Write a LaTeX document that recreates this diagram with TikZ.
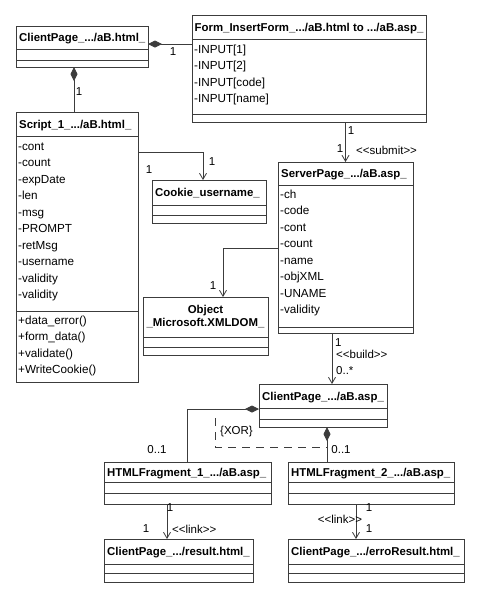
\documentclass[tikz,border=0pt]{standalone}
\usepackage{fontspec}
\setmainfont{Liberation Sans}
\usetikzlibrary{arrows.meta}
\definecolor{ln}{RGB}{60,60,60}
\newcommand\sL{<\kern0pt<}
\newcommand\sR{>\kern0pt>}
\newcommand\umlbox[7]{%
  \node[box, minimum width={(#4-#2)*1pt}, minimum height={(#5-#3)*1pt}] (#1) at (#2,#3) {};
  \draw[sepl] (#2,#6) -- (#4,#6);
  \draw[sepl] (#2,#7) -- (#4,#7);
}
\begin{document}
\begin{tikzpicture}[x=1pt,y=-1pt,
  box/.style={draw=ln, line width=0.9pt, fill=white, inner sep=0pt, outer sep=0pt, anchor=north west},
  sepl/.style={draw=ln, line width=0.9pt},
  ttl/.style={font=\fontsize{11.4}{13}\selectfont\bfseries, anchor=base west, inner sep=0pt},
  att/.style={font=\fontsize{11.7}{13}\selectfont, anchor=base west, inner sep=0pt},
  lbl/.style={font=\fontsize{11.5}{13}\selectfont, inner sep=0pt},
  conn/.style={draw=ln, line width=0.8pt},
  openarr/.style={-{Straight Barb[length=6pt,width=7pt]}},
  comp/.style={{Diamond[length=14pt,width=7pt,fill=ln]}-},
  aggr/.style={{Diamond[open,length=11pt,width=6.5pt,fill=white]}-},
  xor/.style={draw=ln, line width=0.8pt, dash pattern=on 8pt off 6pt}
]
\fill[white] (0,0) rectangle (481,598);
\useasboundingbox (0,0) rectangle (481,598);

% boxes
\umlbox{cpA}{16}{26}{148}{67}{49}{60}
\node[ttl] (cpAt) at (19,41.5) {ClientPage\_.../aB.html\_};

\umlbox{form}{192}{15}{426}{122}{39}{114}
\node[ttl] (formt) at (194.5,31) {Form\_InsertForm\_.../aB.html to .../aB.asp\_};
\foreach \t [count=\i from 0] in {-INPUT[1],-INPUT[2],-INPUT[code],-INPUT[name]}
  \node[att] (forma\i) at (194,53+16.5*\i) {\t};

\umlbox{script}{16}{112}{138}{382}{136}{311}
\node[ttl] (scriptt) at (19,128) {Script\_1\_.../aB.html\_};
\foreach \t [count=\i from 0] in {-cont,-count,-expDate,-len,-msg,-PROMPT,-retMsg,-username,-validity,-validity}
  \node[att] (scripta\i) at (18,150+16.5*\i) {\t};
\foreach \t [count=\i from 0] in {+data\_error(),+form\_data(),+validate(),+WriteCookie()}
  \node[att] (scriptm\i) at (18,324+16.5*\i) {\t};

\umlbox{cookie}{152}{180}{266}{223}{205}{215}
\node[ttl] (cookiet) at (155,196.5) {Cookie\_username\_};

\umlbox{obj}{143}{297}{268}{355}{337}{347}
\node[ttl, anchor=center, align=center] (objt) at (205.5,317) {Object\\\_Microsoft.XMLDOM\_};

\umlbox{server}{278}{162}{413}{333}{185}{327}
\node[ttl] (servert) at (281,177.5) {ServerPage\_.../aB.asp\_};
\foreach \t [count=\i from 0] in {-ch,-code,-cont,-count,-name,-objXML,-UNAME,-validity}
  \node[att] (servera\i) at (280,198+16.5*\i) {\t};

\umlbox{cpB}{259}{384}{387}{427}{408}{419}
\node[ttl] (cpBt) at (262,400) {ClientPage\_.../aB.asp\_};

\umlbox{frag1}{104}{462}{271}{504}{482}{493}
\node[ttl] (frag1t) at (107,476) {HTMLFragment\_1\_.../aB.asp\_};

\umlbox{frag2}{288}{462}{454}{504}{482}{493}
\node[ttl] (frag2t) at (291,476) {HTMLFragment\_2\_.../aB.asp\_};

\umlbox{res}{104}{539}{253}{582}{564}{573}
\node[ttl] (rest) at (107,555.5) {ClientPage\_.../result.html\_};

\umlbox{err}{288}{539}{464}{582}{564}{573}
\node[ttl] (errt) at (291,555.5) {ClientPage\_.../erroResult.html\_};

% connectors
\draw[conn, comp] ([yshift=2.5pt]cpA.east) -- ([yshift=2.5pt]cpA.east -| form.west);
\node[lbl] (l1) at (173,52) {1};

\draw[conn, comp] ([xshift=58pt]cpA.south west) -- ([xshift=58pt]cpA.south west |- script.north);
\node[lbl] (l2) at (79,92) {1};

\draw[conn, openarr] ([yshift=-40pt]script.north east) -| ([xshift=-6pt]cookie.north);
\node[lbl] (l3) at (149,170) {1};
\node[lbl] (l4) at (212,162) {1};

\draw[conn, openarr] (server.north |- form.south) -- (server.north);
\node[lbl] (l5) at (351,131) {1};
\node[lbl] (l6) at (340,149) {1};
\node[lbl, anchor=west] (l7) at (356,150) {\sL submit\sR};

\draw[conn, aggr, openarr] ([yshift=-86pt]server.north west) -| ([xshift=17.5pt]obj.north);
\node[lbl] (l8) at (213,286) {1};

\draw[conn, openarr] ([xshift=54pt]server.south west) -- ([xshift=54pt]server.south west |- cpB.north);
\node[lbl, anchor=west] (l9) at (335,343) {1};
\node[lbl, anchor=west] (l10) at (336,354) {\sL build\sR};
\node[lbl, anchor=west] (l11) at (336,371) {0..*};

\draw[conn, comp] ([yshift=-25pt]cpB.north west) -| (frag1.north);
\node[lbl] (l12) at (157,450) {0..1};

\draw[conn, comp] ([xshift=68pt]cpB.south west) -- ([xshift=68pt]cpB.south west |- frag2.north);
\node[lbl] (l13) at (341,450) {0..1};

\coordinate (x1) at (215,418);
\coordinate (x2) at (215,447);
\coordinate (x3) at (327,447);
\draw[xor] (x1) -- (x2) -- (x3);
\node[lbl, anchor=west] (l14) at (220,432) {\{XOR\}};

\draw[conn, openarr] ([xshift=63pt]frag1.south west) -- ([xshift=63pt]frag1.south west |- res.north);
\node[lbl] (l15) at (170,508) {1};
\node[lbl] (l16) at (146,529) {1};
\node[lbl, anchor=west] (l17) at (172,529) {\sL link\sR};

\draw[conn, openarr] ([xshift=68pt]frag2.south west) -- ([xshift=68pt]frag2.south west |- err.north);
\node[lbl] (l18) at (369,508) {1};
\node[lbl] (l19) at (340,519) {\sL link\sR};
\node[lbl] (l20) at (369,529) {1};
\end{tikzpicture}
\end{document}
